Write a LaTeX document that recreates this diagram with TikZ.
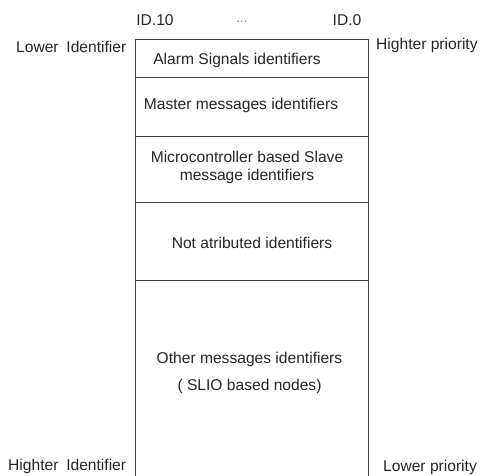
\documentclass[tikz,border=0pt]{standalone}
\usepackage{fontspec}
\setmainfont{Liberation Sans}
\begin{document}
\begin{tikzpicture}[x=1pt,y=-1pt,
  band/.style={rectangle,inner sep=0pt,minimum width=232pt},
  lbl/.style={inner sep=0pt,text=black!85,font=\fontsize{15.6}{19}\selectfont},
  rule/.style={draw=black!75,line width=1.3pt}]
\useasboundingbox (0,0) rectangle (488,476);
% bands
\node[band,minimum height=37pt] (alarm) at (252,58.5) {};
\node[band,minimum height=59pt] (master) at (252,106.5) {};
\node[band,minimum height=66pt] (micro) at (252,169) {};
\node[band,minimum height=78pt] (notat) at (252,241) {};
\node[band,minimum height=196pt] (other) at (252,378) {};
% outline
\draw[rule] (other.south west) -- (alarm.north west) -- (alarm.north east) -- (other.south east);
\draw[rule] (alarm.south west) -- (alarm.south east);
\draw[rule] (master.south west) -- (master.south east);
\draw[rule] (micro.south west) -- (micro.south east);
\draw[rule] (notat.south west) -- (notat.south east);
% band texts
\node[lbl] (talarm) at (237,60) {Alarm Signals identifiers};
\node[lbl] (tmaster) at (241,105) {Master messages identifiers};
\node[lbl,align=center] (tmicro) at (247,167.5) {Microcontroller based Slave\\[-1pt]message identifiers};
\node[lbl] (tnotat) at (252,243) {Not atributed identifiers};
\node[lbl,align=center] (tother) at (249.5,373) {Other messages identifiers\\[8pt]( SLIO based nodes)};
% outside texts
\node[lbl] (id10) at (155,20) {ID.10};
\node[lbl,text=black!55] (dots) at (242,22) {\fontsize{13}{15}\selectfont ...};
\node[lbl] (id0) at (347,20) {ID.0};
\node[lbl,anchor=west] (lowid) at (16,47) {Lower\hspace{0.5em}Identifier};
\node[lbl,anchor=west] (hiprio) at (376,45) {Highter priority};
\node[lbl,anchor=west] (hiid) at (8,466) {Highter\hspace{0.5em}Identifier};
\node[lbl,anchor=west] (loprio) at (383,467) {Lower priority};
\end{tikzpicture}
\end{document}
